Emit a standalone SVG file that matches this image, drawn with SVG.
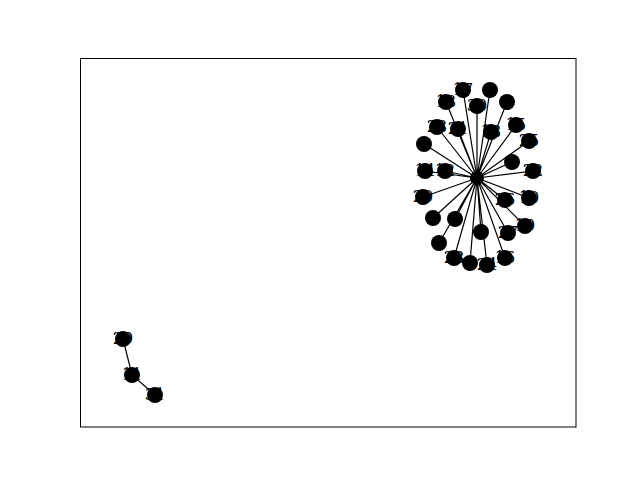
<svg xmlns="http://www.w3.org/2000/svg" width="640" height="480" viewBox="0 0 640 480">
<style>
.n{fill:#000}
.e{stroke:#000;stroke-width:1.2;fill:none}
.t{font-family:"DejaVu Serif","Liberation Serif",serif;font-size:16px;fill:#000;text-anchor:middle;dominant-baseline:central}
</style>
<rect width="640" height="480" fill="#fff"/>
<rect x="80.5" y="58.5" width="495.5" height="368.5" fill="none" stroke="#000" stroke-width="1"/>
<g id="edges">
<path class="e" d="M477 178L463 90M477 178L490 90M477 178L446 102M477 178L477 106M477 178L507 102M477 178L437 127M477 178L458 129M477 178L491 132M477 178L516 125M477 178L529 141M477 178L424 144M477 178L512 162M477 178L533 171M477 178L425 171M477 178L445 171M477 178L423 197M477 178L505 200M477 178L529 198M477 178L433 218M477 178L455 219M477 178L525 226M477 178L508 233M477 178L481 232M477 178L439 243M477 178L454 258M477 178L470 263M477 178L487 265M477 178L505 258"/>
<path class="e" d="M123 339L132 375L155 395"/>
</g>
<g id="n0"><circle class="n" cx="477" cy="178" r="7"/><text class="t" x="477" y="178">0</text></g>
<g id="n17"><circle class="n" cx="463" cy="90" r="8"/><text class="t" x="463" y="89">17</text></g>
<g id="n2"><circle class="n" cx="490" cy="90" r="8"/><text class="t" x="490" y="89">2</text></g>
<g id="n13"><circle class="n" cx="446" cy="102" r="8"/><text class="t" x="446" y="101">13</text></g>
<g id="n30"><circle class="n" cx="477" cy="106" r="8"/><text class="t" x="477" y="105">30</text></g>
<g id="n5"><circle class="n" cx="507" cy="102" r="8"/><text class="t" x="507" y="101">5</text></g>
<g id="n23"><circle class="n" cx="437" cy="127" r="8"/><text class="t" x="437" y="126">23</text></g>
<g id="n21"><circle class="n" cx="458" cy="129" r="8"/><text class="t" x="458" y="128">21</text></g>
<g id="n18"><circle class="n" cx="491" cy="132" r="8"/><text class="t" x="491" y="131">18</text></g>
<g id="n15"><circle class="n" cx="516" cy="125" r="8"/><text class="t" x="516" y="124">15</text></g>
<g id="n25"><circle class="n" cx="529" cy="141" r="8"/><text class="t" x="529" y="140">25</text></g>
<g id="n1"><circle class="n" cx="424" cy="144" r="8"/><text class="t" x="424" y="143">1</text></g>
<g id="n8"><circle class="n" cx="512" cy="162" r="8"/><text class="t" x="512" y="161">8</text></g>
<g id="n22"><circle class="n" cx="533" cy="171" r="8"/><text class="t" x="533" y="170">22</text></g>
<g id="n14"><circle class="n" cx="425" cy="171" r="8"/><text class="t" x="425" y="170">14</text></g>
<g id="n12"><circle class="n" cx="445" cy="171" r="8"/><text class="t" x="445" y="170">12</text></g>
<g id="n20"><circle class="n" cx="423" cy="197" r="8"/><text class="t" x="423" y="196">20</text></g>
<g id="n26"><circle class="n" cx="505" cy="200" r="8"/><text class="t" x="505" y="199">26</text></g>
<g id="n10"><circle class="n" cx="529" cy="198" r="8"/><text class="t" x="529" y="197">10</text></g>
<g id="n6"><circle class="n" cx="433" cy="218" r="8"/><text class="t" x="433" y="217">6</text></g>
<g id="n4"><circle class="n" cx="455" cy="219" r="8"/><text class="t" x="455" y="218">4</text></g>
<g id="n19"><circle class="n" cx="525" cy="226" r="8"/><text class="t" x="525" y="225">19</text></g>
<g id="n27"><circle class="n" cx="508" cy="233" r="8"/><text class="t" x="508" y="232">27</text></g>
<g id="n3"><circle class="n" cx="481" cy="232" r="8"/><text class="t" x="481" y="231">3</text></g>
<g id="n9"><circle class="n" cx="439" cy="243" r="8"/><text class="t" x="439" y="242">9</text></g>
<g id="n28"><circle class="n" cx="454" cy="258" r="8"/><text class="t" x="454" y="257">28</text></g>
<g id="n7"><circle class="n" cx="470" cy="263" r="8"/><text class="t" x="470" y="262">7</text></g>
<g id="n24"><circle class="n" cx="487" cy="265" r="8"/><text class="t" x="487" y="264">24</text></g>
<g id="n16"><circle class="n" cx="505" cy="258" r="8"/><text class="t" x="505" y="257">16</text></g>
<g id="n29"><circle class="n" cx="123" cy="339" r="8"/><text class="t" x="123" y="338">29</text></g>
<g id="n11"><circle class="n" cx="132" cy="375" r="8"/><text class="t" x="132" y="374">11</text></g>
<g id="n31"><circle class="n" cx="155" cy="395" r="8"/><text class="t" x="155" y="394">31</text></g>
</svg>
